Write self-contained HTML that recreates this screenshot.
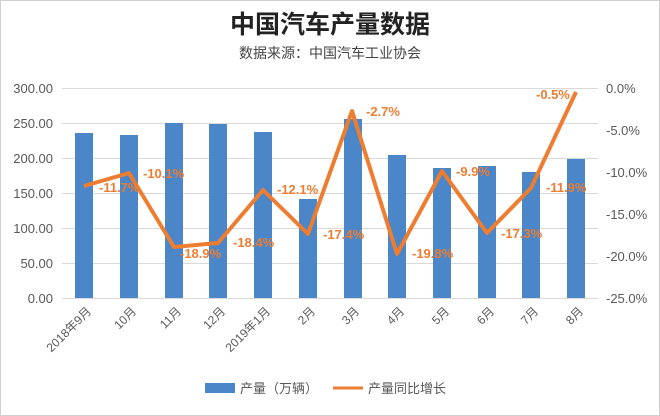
<!DOCTYPE html>
<html><head><meta charset="utf-8"><style>
body{margin:0;background:#fff;}
svg{display:block;font-family:"Liberation Sans","Noto Sans CJK SC",sans-serif;}
</style></head><body>
<svg width="660" height="416" xmlns="http://www.w3.org/2000/svg">
<rect x="0.5" y="0.5" width="659" height="415" fill="#fff" stroke="#d0d0d0"/>
<text x="330" y="33" text-anchor="middle" font-size="25" font-weight="bold" fill="#222">中国汽车产量数据</text>
<text x="330" y="58" text-anchor="middle" font-size="14" fill="#444">数据来源：中国汽车工业协会</text>
<g stroke="#d9d9d9" stroke-width="1">
<line x1="62" x2="598" y1="88.5" y2="88.5"/><line x1="62" x2="598" y1="123.5" y2="123.5"/>
<line x1="62" x2="598" y1="158.5" y2="158.5"/><line x1="62" x2="598" y1="193.5" y2="193.5"/>
<line x1="62" x2="598" y1="228.5" y2="228.5"/><line x1="62" x2="598" y1="263.5" y2="263.5"/>
<line x1="62" x2="598" y1="298.5" y2="298.5"/>
</g>
<g font-size="13" fill="#595959" text-anchor="end">
<text x="53" y="93">300.00</text><text x="53" y="128">250.00</text><text x="53" y="163">200.00</text>
<text x="53" y="198">150.00</text><text x="53" y="233">100.00</text><text x="53" y="268">50.00</text><text x="53" y="303">0.00</text>
</g>
<g font-size="13" fill="#595959">
<text x="606" y="93">0.0%</text><text x="606" y="135">-5.0%</text><text x="606" y="177">-10.0%</text>
<text x="606" y="219">-15.0%</text><text x="606" y="261">-20.0%</text><text x="606" y="303">-25.0%</text>
</g>
<g fill="#4a86c8">
<rect x="75" y="133" width="18" height="165"/><rect x="120" y="135" width="18" height="163"/>
<rect x="165" y="123" width="18" height="175"/><rect x="209" y="124" width="18" height="174"/>
<rect x="254" y="132" width="18" height="166"/><rect x="299" y="199" width="18" height="99"/>
<rect x="344" y="119" width="18" height="179"/><rect x="388" y="155" width="18" height="143"/>
<rect x="433" y="168" width="18" height="130"/><rect x="478" y="166" width="18" height="132"/>
<rect x="522" y="172" width="18" height="126"/><rect x="567" y="159" width="18" height="139"/>
</g>
<polyline fill="none" stroke="#ed7d31" stroke-width="4" stroke-linejoin="round" points="84,186 129,173 174,247 218,243 263,190 308,234 352,111 397,254 442,171 487,233 531,188 576,92"/>
<g font-size="13" fill="#ed7d31" font-weight="bold">
<text x="99" y="192">-11.7%</text><text x="143" y="178">-10.1%</text><text x="180" y="258">-18.9%</text>
<text x="233" y="247">-18.4%</text><text x="277" y="194">-12.1%</text><text x="323" y="239">-17.4%</text>
<text x="366" y="116">-2.7%</text><text x="412" y="258">-19.8%</text><text x="456" y="176">-9.9%</text>
<text x="501" y="238">-17.3%</text><text x="546" y="192">-11.9%</text><text x="536" y="99">-0.5%</text>
</g>
<g font-size="12" fill="#595959" text-anchor="end">
<text transform="translate(92,312) rotate(-45)">2018年9月</text>
<text transform="translate(137,312) rotate(-45)">10月</text>
<text transform="translate(182,312) rotate(-45)">11月</text>
<text transform="translate(226,312) rotate(-45)">12月</text>
<text transform="translate(271,312) rotate(-45)">2019年1月</text>
<text transform="translate(316,312) rotate(-45)">2月</text>
<text transform="translate(360,312) rotate(-45)">3月</text>
<text transform="translate(405,312) rotate(-45)">4月</text>
<text transform="translate(450,312) rotate(-45)">5月</text>
<text transform="translate(495,312) rotate(-45)">6月</text>
<text transform="translate(539,312) rotate(-45)">7月</text>
<text transform="translate(584,312) rotate(-45)">8月</text>
</g>
<rect x="205" y="383" width="30" height="10" fill="#4a86c8"/>
<text x="240" y="393" font-size="13" fill="#595959">产量（万辆）</text>
<line x1="333" x2="363" y1="388" y2="388" stroke="#ed7d31" stroke-width="3"/>
<text x="368" y="393" font-size="13" fill="#595959">产量同比增长</text>
</svg>
</body></html>
